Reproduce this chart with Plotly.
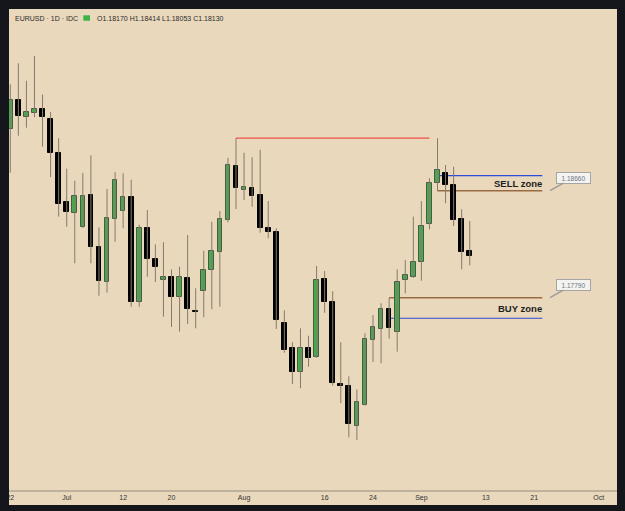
import plotly.graph_objects as go

# ---------------- data ----------------
symbol_text = "EURUSD · 1D · IDC"

tick_index = [0, 7, 14, 20, 29, 39, 45, 51, 59, 65, 73]
tick_labels = ["22", "Jul", "12", "20", "Aug", "16", "24", "Sep", "13", "21", "Oct"]

opens = [1.19159, 1.19395, 1.19257, 1.19292, 1.19327, 1.19245, 1.18969, 1.18568, 1.18479, 1.18362,
         1.18623, 1.18205, 1.17920, 1.18432, 1.18497, 1.18606, 1.17753, 1.18354, 1.18102, 1.17934,
         1.17961, 1.17796, 1.17948, 1.17684, 1.17845, 1.18015, 1.18162, 1.18422, 1.18863, 1.18668,
         1.18684, 1.18623, 1.18357, 1.18322, 1.17587, 1.17379, 1.17184, 1.17379, 1.17306, 1.17942,
         1.17758, 1.17089, 1.17072, 1.16745, 1.16915, 1.17444, 1.17538, 1.17696, 1.17514, 1.17936,
         1.17956, 1.18083, 1.18387, 1.18725, 1.18806, 1.18704, 1.18432, 1.18170]
highs = [1.19525, 1.19696, 1.19554, 1.19755, 1.19441, 1.19300, 1.19086, 1.18839, 1.18741, 1.18804,
         1.18948, 1.18362, 1.18674, 1.18810, 1.18802, 1.18749, 1.18384, 1.18503, 1.18224, 1.18241,
         1.18019, 1.18042, 1.18300, 1.17867, 1.18172, 1.18408, 1.18495, 1.18928, 1.19088, 1.18969,
         1.18932, 1.18993, 1.18576, 1.18354, 1.17688, 1.17428, 1.17541, 1.17481, 1.18048, 1.18007,
         1.17842, 1.17428, 1.17151, 1.17045, 1.17501, 1.17649, 1.17745, 1.17788, 1.18021, 1.18097,
         1.18449, 1.18576, 1.18761, 1.19086, 1.18869, 1.18855, 1.18509, 1.18414]
lows = [1.18806, 1.19107, 1.19172, 1.19257, 1.19018, 1.18771, 1.18449, 1.18367, 1.18070, 1.18357,
        1.18070, 1.17806, 1.17831, 1.18245, 1.18354, 1.17717, 1.17717, 1.17961, 1.17918, 1.17636,
        1.17552, 1.17514, 1.17576, 1.17541, 1.17631, 1.17696, 1.17717, 1.18403, 1.18511, 1.18584,
        1.18530, 1.18319, 1.18273, 1.17536, 1.17343, 1.17089, 1.17054, 1.17229, 1.17300, 1.17668,
        1.17075, 1.16932, 1.16655, 1.16633, 1.16913, 1.17267, 1.17257, 1.17457, 1.17351, 1.17826,
        1.17950, 1.17928, 1.18346, 1.18658, 1.18558, 1.18373, 1.18021, 1.18053]
closes = [1.19397, 1.19265, 1.19300, 1.19324, 1.19257, 1.18967, 1.18549, 1.18484, 1.18617, 1.18617,
          1.18205, 1.17926, 1.18441, 1.18747, 1.18606, 1.17753, 1.18357, 1.18102, 1.18042, 1.17956,
          1.17794, 1.17961, 1.17696, 1.17676, 1.18018, 1.18170, 1.18430, 1.18867, 1.18680, 1.18688,
          1.18619, 1.18359, 1.18327, 1.17606, 1.17365, 1.17189, 1.17384, 1.17302, 1.17932, 1.17758,
          1.17094, 1.17075, 1.16761, 1.16945, 1.17452, 1.17549, 1.17696, 1.17541, 1.17920, 1.17972,
          1.18078, 1.18375, 1.18725, 1.18828, 1.18704, 1.18422, 1.18162, 1.18130]

# drawn levels: (price, first bar index, last bar index)
red_level = (1.19088, 28, 52)
sell_upper = (1.18782, 53, 66)
sell_lower = (1.18660, 53, 66)
buy_upper = (1.17790, 47, 66)
buy_lower = (1.17623, 47, 66)
sell_label = ("SELL zone", 1.18720)
buy_label = ("BUY zone", 1.17704)
price_tags = [1.18660, 1.17790]
tag_bar = 66.96

# ---------------- styling ----------------
W, H = 625, 511
ML, MR, MT, MB = 9, 8, 9, 21
BEIGE = "#E9D8BC"
FRAME = "#14161B"
GREEN = "#45AB4B"
GREEN_EDGE = "#4A5A48"
WICK = "#857B6C"
BLUE = "#2F49D8"
BROWN = "#9A6A45"
RED = "#F0504A"


def xp(px):
    return (px - ML) / (W - ML - MR)


def yp(py):
    return (H - MB - py) / (H - MT - MB)


n = len(opens)
xs = list(range(n))
up = [c >= o for o, c in zip(opens, closes)]

wx, wy = [], []
for i in xs:
    wx += [i, i, None]
    wy += [lows[i], highs[i], None]

fig = go.Figure()
fig.add_trace(go.Scatter(x=wx, y=wy, mode="lines", line=dict(color=WICK, width=1),
                         hoverinfo="skip", showlegend=False))
fig.add_trace(go.Bar(
    x=xs,
    base=[min(o, c) for o, c in zip(opens, closes)],
    y=[max(abs(c - o), 0.00002) for o, c in zip(opens, closes)],
    width=0.58,
    marker=dict(color=[GREEN if u else "#000000" for u in up],
                line=dict(color=[GREEN_EDGE if u else "#000000" for u in up], width=1)),
    hoverinfo="skip", showlegend=False))

shapes = []
for (lvl, a, b), col, w in [(red_level, RED, 1.2), (sell_upper, BLUE, 1.2), (sell_lower, BROWN, 1.6),
                            (buy_upper, BROWN, 1.6), (buy_lower, BLUE, 1.2)]:
    shapes.append(dict(type="line", xref="x", yref="y", x0=a, x1=b, y0=lvl, y1=lvl,
                       line=dict(color=col, width=w), layer="below"))

# header icon
shapes.append(dict(type="rect", xref="paper", yref="paper", x0=xp(83.3), x1=xp(90), y0=yp(20.7), y1=yp(15.3),
                   fillcolor="#3CB44A", line=dict(width=0), layer="above"))
# dark frame
for x0, x1, y0, y1 in [(-0.05, xp(9), -0.1, 1.1), (xp(617), 1.05, -0.1, 1.1),
                       (-0.05, 1.05, yp(9), 1.1), (-0.05, 1.05, -0.1, yp(505))]:
    shapes.append(dict(type="rect", xref="paper", yref="paper", x0=x0, x1=x1, y0=y0, y1=y1,
                       fillcolor=FRAME, line=dict(width=0), layer="above"))

ann = []
ann.append(dict(xref="paper", yref="paper", x=xp(12.5), y=yp(18.3), xanchor="left", yanchor="middle",
                text=symbol_text, showarrow=False, font=dict(size=7, color="#2b2b2b", family="Liberation Sans, Arial")))
ann.append(dict(xref="paper", yref="paper", x=xp(94.5), y=yp(18.3), xanchor="left", yanchor="middle",
                text=f"O{opens[-1]:.5f} H{highs[-1]:.5f} L{lows[-1]:.5f} C{closes[-1]:.5f}",
                showarrow=False, font=dict(size=7, color="#2b2b2b", family="Liberation Sans, Arial")))
for txt, yv in [sell_label, buy_label]:
    ann.append(dict(xref="x", yref="y", x=66.2, y=yv, xanchor="right", yanchor="middle", text=txt,
                    showarrow=False, font=dict(size=9.5, color="#1E1E1E", family="Liberation Sans, Arial",
                                               weight="bold")))
for pv in price_tags:
    ann.append(dict(xref="x", yref="y", x=tag_bar, y=pv, text=f"{pv:.5f}", showarrow=True,
                    ax=23, ay=-13, arrowhead=0, arrowwidth=1.5, arrowcolor="#9C9C9C",
                    bgcolor="#F4F3F0", bordercolor="#A5A5A5", borderwidth=1, borderpad=1.5,
                    width=30, height=7,
                    font=dict(size=6.5, color="#6A7385", family="Liberation Sans, Arial")))

fig.update_layout(
    width=W, height=H, template="none",
    margin=dict(l=ML, r=MR, t=MT, b=MB, pad=0),
    paper_bgcolor=BEIGE, plot_bgcolor=BEIGE,
    showlegend=False, bargap=0,
    shapes=shapes, annotations=ann,
    xaxis=dict(range=[-0.161, 75.27], tickmode="array", tickvals=tick_index, ticktext=tick_labels,
               showgrid=False, zeroline=False, showline=True, linecolor="#BFB29C", linewidth=1.5,
               ticks="", tickfont=dict(size=7, color="#333333", family="Liberation Sans, Arial"),
               fixedrange=True),
    yaxis=dict(range=[1.162267, 1.201372], showgrid=False, zeroline=False, showticklabels=False,
               showline=False, ticks="", fixedrange=True),
)

fig.write_html("out.html")
